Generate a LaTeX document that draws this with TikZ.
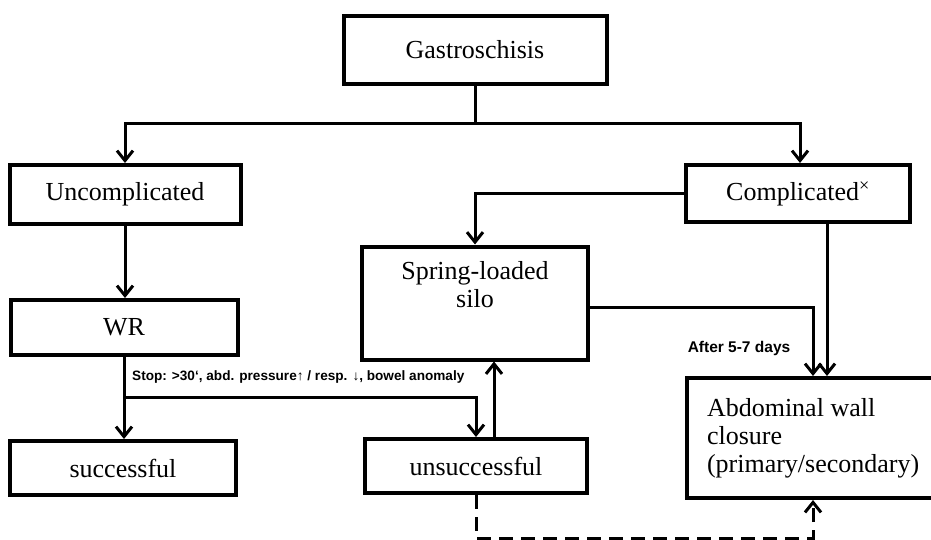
\documentclass[tikz,border=0pt]{standalone}
\usepackage{fontspec}
\setmainfont{Liberation Serif}
\newfontfamily\labelfont{Liberation Sans}
\usetikzlibrary{arrows.meta, positioning}
\tikzset{
  stage/.style={rectangle, draw=black, line width=4pt, align=center, inner sep=0pt,
              font=\fontsize{26}{28}\selectfont},
  flow/.style={-{Straight Barb[length=10pt, width=16pt]}, line width=3pt},
  note/.style={font=\labelfont\bfseries\fontsize{13.6}{15}\selectfont, inner sep=0pt},
}
\begin{document}
\begin{tikzpicture}[x=1pt, y=-1pt]
    \useasboundingbox (0,0) rectangle (931,539);
    \node[stage, minimum width=263pt, minimum height=68pt] (gastro) at (475,50) {Gastroschisis};
    \node[stage, minimum width=231pt, minimum height=59pt] (uncomp) at (125,194.5) {Uncomplicated};
    \node[stage, minimum width=224pt, minimum height=57pt] (comp) at (798,193.5) {Complicated\textsuperscript{×}};
    \node[stage, minimum width=226pt, minimum height=113pt] (silo) at (475,303) {Spring-loaded\\ silo\\ \strut};
    \node[stage, align=left, inner xsep=20pt, minimum height=120pt, anchor=west] (abd) at (685,438) {Abdominal wall\\ closure\\ (primary/secondary)};
    \node[stage, minimum width=227pt, minimum height=55pt] (wr) at (124,327.5) {WR};
    \node[stage, minimum width=226pt, minimum height=54pt] (succ) at (123,468) {successful};
    \node[stage, minimum width=222pt, minimum height=54pt] (unsucc) at (476,466) {unsuccessful};

    \node[note, anchor=west] (stop) at (132,377) {Stop: >30‘, abd. pressure↑ / resp. ↓, bowel anomaly};
    \node[note, font=\labelfont\bfseries\fontsize{15.5}{17}\selectfont] (days) at (739,348) {After 5-7 days};

    \coordinate (split) at (475,123);
    \coordinate (split2) at (124,397);
    \coordinate (abdin) at (813,0 |- abd.north);
    \coordinate (abdin2) at (827,0 |- abd.north);

    \draw[line width=3pt] (gastro) -- (split);
    \draw[flow] (split) -| (uncomp.north);
    \draw[flow] (split) -| ([xshift=2pt]comp.north);
    \draw[flow] (comp.west) -| (silo.north);
    \draw[flow] (comp.south -| abdin2) -- (abdin2);
    \draw[flow] ([yshift=-4.5pt]silo.east) -| (abdin);
    \draw[flow] (uncomp.south) -- (uncomp.south |- wr.north);
    \draw[line width=3pt] (wr.south -| split2) -- (split2);
    \draw[flow] (split2) -- (succ.north -| split2);
    \draw[flow] (split2) -| (unsucc.north);
    \draw[flow] ([xshift=18pt]unsucc.north) -- ([xshift=18pt]unsucc.north |- silo.south);
    \draw[flow, dash pattern=on 14pt off 8pt] (unsucc.south) -- ++(0,43) -| (abdin |- abd.south);
\end{tikzpicture}
\end{document}
